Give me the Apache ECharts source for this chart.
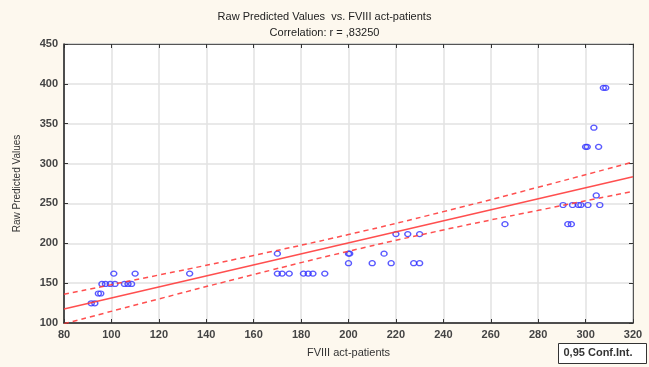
<!DOCTYPE html>
<html>
<head>
<meta charset="utf-8">
<script src="https://cdn.jsdelivr.net/npm/echarts@6/dist/echarts.min.js"></script>
<style>
  html, body { margin: 0; padding: 0; background: #fdf8ee; }
  #main { width: 649px; height: 367px; }
</style>
</head>
<body>
<div id="main"></div>
<script>
// scatter points
var ptX = [91.5, 93, 94.5, 95.5, 96, 97.5, 99.5, 101.5, 105.5, 107, 108.5,
           101, 110, 133, 170, 172, 175, 181, 183, 185, 190,
           170, 200, 200.5, 215, 200, 210, 218, 227.5, 230,
           220, 225, 230, 266, 292.5, 294,
           290.5, 294.5, 297, 298, 301, 306, 304.5,
           300, 300.7, 305.5, 303.5, 307.5, 308.5]
var ptY = [124.7, 124.7, 137, 137, 149, 149, 149, 149, 149, 149, 149,
           162, 162, 162, 162, 162, 162, 162, 162, 162, 162,
           187, 187, 187, 187, 175, 175, 175, 175, 175,
           211.5, 211.5, 211.5, 224, 224, 224,
           248, 248, 248, 248, 248, 248, 260,
           321, 321, 321, 345, 395, 395]

// regression line and 0,95 confidence band
var fitX = [80, 320]
var fitY = [117.5, 283.5]
var bandX = [80, 120, 160, 200, 240, 280, 320]
var bandUp = [136, 160.2, 184.8, 211, 239.7, 270.3, 302]
var bandLo = [99, 130.2, 160.8, 190, 216.7, 241.3, 265]

var xTicks = [80, 320, 20]
var yTicks = [100, 450, 50]

function pairs(a, b) {
    var out = []
    for (var i = 0; i < a.length; i++) {
        out.push([a[i], b[i]])
    }
    return out
}

var font = 'Liberation Sans, Arial, sans-serif'
var red = 'rgba(255,60,60,0.9)'

var mCharts = echarts.init(document.getElementById('main'))
var option = {
    backgroundColor: '#fdf8ee',
    animation: false,
    title: {
        text: 'Raw Predicted Values  vs. FVIII act-patients\nCorrelation: r = ,83250',
        left: 'center',
        top: 4,
        textStyle: { fontFamily: font, fontSize: 11, fontWeight: 'normal', color: '#222', lineHeight: 16 }
    },
    grid: {
        left: 64, right: 16, top: 44, bottom: 44,
        show: true, backgroundColor: '#fff', borderColor: '#555', borderWidth: 1
    },
    xAxis: [{
        type: 'value', min: xTicks[0], max: xTicks[1], interval: xTicks[2],
        name: 'FVIII act-patients', nameLocation: 'middle', nameGap: 24,
        nameTextStyle: { fontFamily: font, fontSize: 11, color: '#333' },
        axisLine: { lineStyle: { color: '#222', width: 1.5 } },
        axisTick: { inside: true, length: 4, lineStyle: { color: '#333' } },
        axisLabel: { fontFamily: font, fontSize: 11, fontWeight: 'bold', color: '#444', margin: 6 },
        splitLine: { lineStyle: { color: '#e2e2e2', width: 1.5 } }
    }, {
        type: 'value', position: 'top', min: xTicks[0], max: xTicks[1], interval: xTicks[2],
        axisLine: { lineStyle: { color: '#555' } },
        axisTick: { inside: true, length: 4, lineStyle: { color: '#333' } },
        axisLabel: { show: false }, splitLine: { show: false }
    }],
    yAxis: [{
        type: 'value', min: yTicks[0], max: yTicks[1], interval: yTicks[2],
        name: 'Raw Predicted Values', nameLocation: 'middle', nameGap: 42,
        nameTextStyle: { fontFamily: font, fontSize: 10, color: '#333' },
        axisLine: { show: true, lineStyle: { color: '#222', width: 1.5 } },
        axisTick: { show: true, inside: true, length: 4, lineStyle: { color: '#333' } },
        axisLabel: { fontFamily: font, fontSize: 11, fontWeight: 'bold', color: '#444', margin: 6 },
        splitLine: { lineStyle: { color: '#e2e2e2', width: 1.5 } }
    }, {
        type: 'value', position: 'right', min: yTicks[0], max: yTicks[1], interval: yTicks[2],
        axisLine: { show: true, lineStyle: { color: '#555' } },
        axisTick: { show: true, inside: true, length: 4, lineStyle: { color: '#333' } },
        axisLabel: { show: false }, splitLine: { show: false }
    }],
    series: [
        {
            type: 'line', data: pairs(bandX, bandUp), smooth: true, symbol: 'none', clip: true,
            lineStyle: { color: red, width: 1.5, type: [5, 4] }
        },
        {
            type: 'line', data: pairs(bandX, bandLo), smooth: true, symbol: 'none', clip: true,
            lineStyle: { color: red, width: 1.5, type: [5, 4] }
        },
        {
            type: 'line', data: pairs(fitX, fitY), symbol: 'none',
            lineStyle: { color: red, width: 1.5 }
        },
        {
            type: 'scatter', data: pairs(ptX, ptY), symbol: 'circle', symbolSize: [6, 5],
            itemStyle: { color: 'rgba(255,255,255,0)', borderColor: '#3030ff', borderWidth: 1.3 }
        }
    ],
    graphic: [{
        type: 'group', right: 2, bottom: 3,
        children: [
            { type: 'rect', shape: { x: 0, y: 0, width: 88, height: 20 },
              style: { fill: '#fff', stroke: '#333', lineWidth: 1 } },
            { type: 'text', x: 5, y: 4,
              style: { text: '0,95 Conf.Int.', font: 'bold 11px ' + font, fill: '#333' } }
        ]
    }]
}
mCharts.setOption(option)
</script>
</body>
</html>
